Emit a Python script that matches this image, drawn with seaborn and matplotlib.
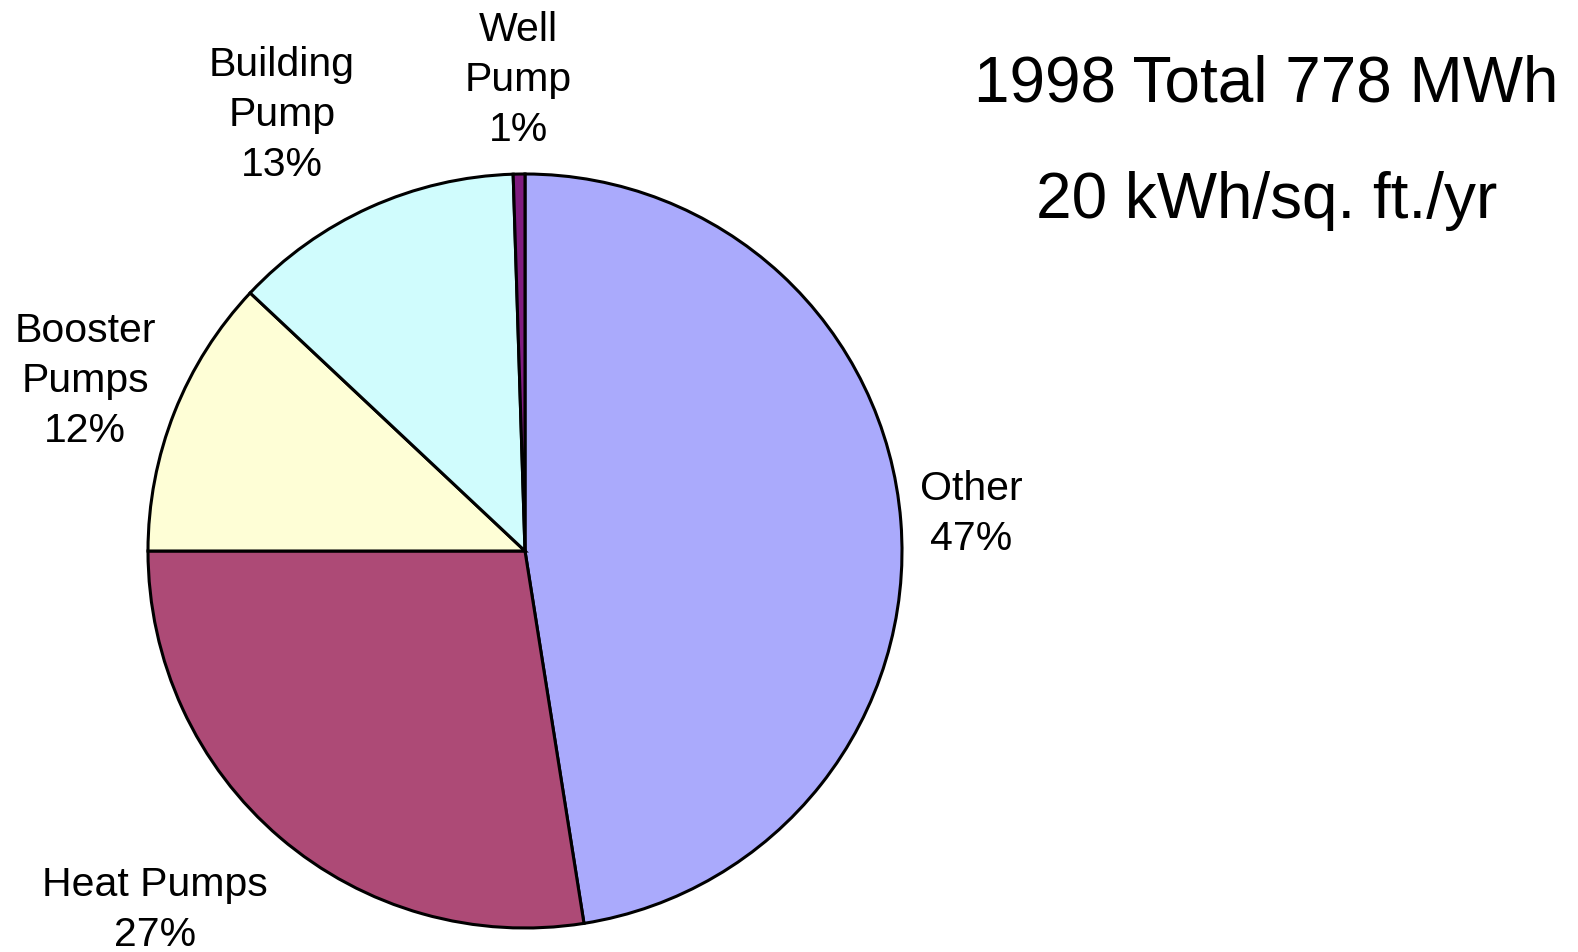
import matplotlib
matplotlib.use("Agg")
import matplotlib.pyplot as plt
import seaborn as sns

# 資料
categories = ['Other', 'Heat Pumps', 'Booster\nPumps', 'Building\nPump', 'Well\nPump']
shares = [47.5, 27.5, 12.0, 12.5, 0.5]
pct_labels = ['47%', '27%', '12%', '13%', '1%']
colors = ['#aaaafc', '#ad4a76', '#fefed6', '#d0fcfd', '#7f1c7f']

sns.set_theme(style="white")
plt.rcParams['font.family'] = ['Liberation Sans', 'DejaVu Sans']

fig = plt.figure(figsize=(15.78, 9.53), dpi=100)
ax = fig.add_axes([0, 0, 1, 1])

ax.pie(shares, colors=colors, startangle=90, counterclock=False,
       radius=1.0, center=(0, 0),
       wedgeprops=dict(edgecolor='black', linewidth=2.2))

# 圓心 (525, 552) px，半徑 377 px；pie 會改 xlim/ylim，所以之後再設定
cx, cy, r = 525, 552, 377
W, H = 1578, 953
ax.set_xlim((0 - cx) / r, (W - cx) / r)
ax.set_ylim((cy - H) / r, (cy - 0) / r)
ax.set_aspect('equal')
ax.axis('off')

# 標籤位置（像素）
label_px = [(971, 514), (155, 910), (85, 381), (282, 115), (518, 80)]
for name, pct, (px, py) in zip(categories, pct_labels, label_px):
    ax.text((px - cx) / r, (cy - py) / r, f'{name}\n{pct}',
            ha='center', va='center', fontsize=29.5, linespacing=1.4,
            color='black')

fig.text(1266 / W, 1 - 85 / H, '1998 Total 778 MWh',
         ha='center', va='center', fontsize=46, color='black')
fig.text(1267 / W, 1 - 201 / H, '20 kWh/sq. ft./yr',
         ha='center', va='center', fontsize=46, color='black')

fig.savefig('out.png', dpi=100, facecolor='white')
